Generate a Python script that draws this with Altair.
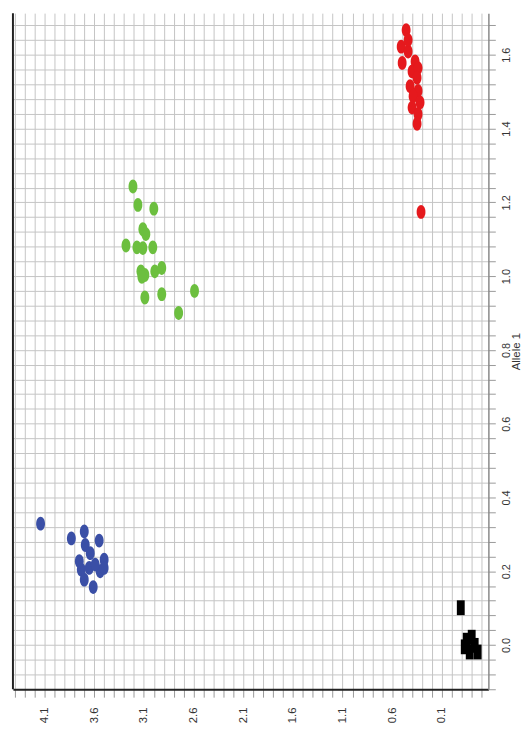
import altair as alt
import pandas as pd
import numpy as np

# Allele 2 (horizontal, reversed) and Allele 1 (vertical, right axis)
blue_a2 = [4.14, 3.83, 3.70, 3.55, 3.69, 3.64, 3.50, 3.73, 3.65, 3.54, 3.70, 3.61, 3.59, 3.50, 3.75]
blue_a1 = [0.329, 0.289, 0.308, 0.283, 0.271, 0.249, 0.231, 0.204, 0.209, 0.200, 0.177, 0.157, 0.218, 0.209, 0.227]

green_a2 = [3.21, 3.16, 3.00, 3.11, 3.08, 3.28, 3.17, 3.11, 3.01, 3.13, 3.09, 2.99, 2.92, 3.12, 3.09, 2.92, 2.59, 2.75]
green_a1 = [1.243, 1.193, 1.183, 1.127, 1.114, 1.083, 1.078, 1.076, 1.078, 1.013, 1.003, 1.013, 1.022, 0.998, 0.942, 0.951, 0.960, 0.900]

red_a2 = [0.46, 0.51, 0.44, 0.50, 0.37, 0.40, 0.34, 0.42, 0.34, 0.39, 0.32, 0.40, 0.34, 0.35, 0.35, 0.44, 0.31]
red_a1 = [1.667, 1.622, 1.609, 1.578, 1.582, 1.555, 1.564, 1.515, 1.502, 1.488, 1.471, 1.457, 1.439, 1.413, 1.538, 1.640, 1.174]

black_a2 = [-0.09, -0.15, -0.23, -0.18, -0.26, -0.13, -0.20]
black_a1 = [0.101, 0.013, -0.001, -0.019, -0.019, -0.005, 0.021]

x_tick_labels = [4.1, 3.6, 3.1, 2.6, 2.1, 1.6, 1.1, 0.6, 0.1]
y_tick_labels = [0.0, 0.2, 0.4, 0.6, 0.8, 1.0, 1.2, 1.4, 1.6]

x_domain = [4.418, -0.368]
y_domain = [-0.12, 1.713]

x_grid = [round(v, 1) for v in np.arange(-0.3, 4.45, 0.1)]
y_grid = [round(v, 2) for v in np.arange(-0.12, 1.72, 0.04)]

rows = []
for grp, xs, ys in [("blue", blue_a2, blue_a1), ("green", green_a2, green_a1), ("red", red_a2, red_a1)]:
    for a, b in zip(xs, ys):
        rows.append({"a2": a, "a1": b, "g": grp})
dots = pd.DataFrame(rows)
sq = pd.DataFrame({"a2": black_a2, "a1": black_a1, "g": "black"})

ellipse = "M0,-1A0.64,1 0 1,0 0,1A0.64,1 0 1,0 0,-1Z"
rect = "M-0.53,-1L0.53,-1L0.53,1L-0.53,1Z"

font = "Liberation Sans"

xsc = alt.Scale(domain=x_domain, nice=False, zero=False)
ysc = alt.Scale(domain=y_domain, nice=False, zero=False)

x_lab = " || ".join(f"abs(datum.value - {v}) < 0.001" for v in x_tick_labels)
y_lab = " || ".join(f"abs(datum.value - {v}) < 0.001" for v in y_tick_labels)

x_axis = alt.Axis(
    values=x_grid, title=None, orient="bottom",
    labelExpr=f"({x_lab}) ? format(datum.value, '.1f') : ''",
    labelAngle=270, labelAlign="right", labelBaseline="middle",
    labelFont=font, labelFontSize=11.5, labelColor="#333", labelPadding=10,
    tickSize=8, tickColor="#999", domainColor="#222", domainWidth=2,
    grid=True, gridColor="#c4c4c4", gridWidth=1, labelOverlap=False,
    labelBound=False, labelFlush=False,
)
y_axis = alt.Axis(
    values=y_grid, title="Allele 1", orient="right",
    labelExpr=f"({y_lab}) ? format(datum.value, '.1f') : ''",
    labelAngle=270, labelAlign="center", labelBaseline="top",
    labelFont=font, labelFontSize=11, labelColor="#333", labelPadding=5,
    tickSize=7, tickColor="#999", domainColor="#888", domainWidth=1.5,
    grid=True, gridColor="#c4c4c4", gridWidth=1, labelOverlap=False,
    labelBound=False, labelFlush=False,
    titleAngle=270, titleFont=font, titleFontSize=11.5, titleFontWeight="normal",
    titleColor="#333", titlePadding=-1, titleBaseline="top",
)

color_scale = alt.Scale(domain=["blue", "green", "red", "black"],
                        range=["#3a4fa6", "#6cbf3f", "#e5191d", "#000000"])

base_dots = alt.Chart(dots).mark_point(shape=ellipse, size=196, filled=True, opacity=1, strokeWidth=0).encode(
    x=alt.X("a2:Q", scale=xsc, axis=x_axis),
    y=alt.Y("a1:Q", scale=ysc, axis=y_axis),
    color=alt.Color("g:N", scale=color_scale, legend=None),
)
squares = alt.Chart(sq).mark_point(shape=rect, size=225, filled=True, opacity=1, strokeWidth=0).encode(
    x=alt.X("a2:Q", scale=xsc, axis=x_axis),
    y=alt.Y("a1:Q", scale=ysc, axis=y_axis),
    color=alt.Color("g:N", scale=color_scale, legend=None),
)
left_line = alt.Chart(pd.DataFrame({"k": [0]})).mark_rule(color="#222", strokeWidth=2).encode(
    x=alt.value(0), y=alt.value(0), y2=alt.value(684)
)

chart = alt.layer(base_dots, squares, left_line).properties(
    width=481, height=684, padding=0
).configure_view(stroke=None)

chart.save("out.html", embed_options={"renderer": "svg", "actions": False})
